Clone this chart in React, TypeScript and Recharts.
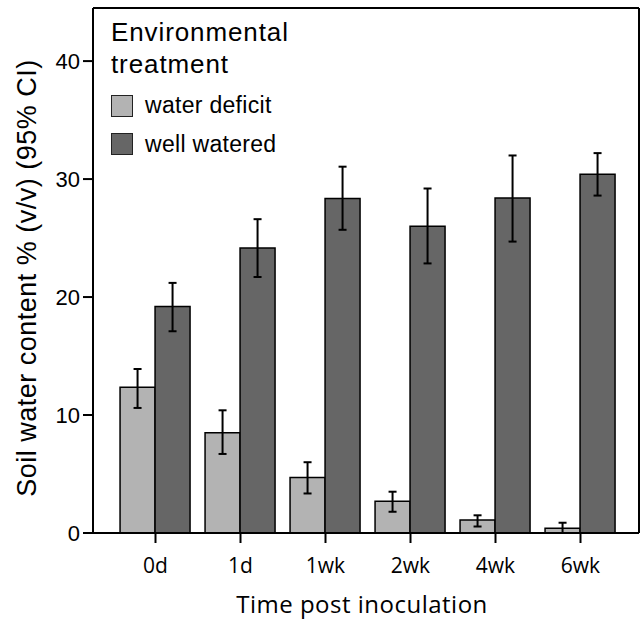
import React from 'react';
import { BarChart, Bar, XAxis, YAxis, ErrorBar } from 'recharts';

const timepoints = ['0d', '1d', '1wk', '2wk', '4wk', '6wk'];

const deficit = [12.35, 8.5, 4.7, 2.7, 1.1, 0.4];
const deficitLow = [10.6, 6.7, 3.35, 1.8, 0.55, 0.0];
const deficitHigh = [13.9, 10.4, 6.0, 3.5, 1.5, 0.87];

const watered = [19.2, 24.15, 28.35, 26.0, 28.4, 30.4];
const wateredLow = [17.1, 21.7, 25.7, 22.85, 24.7, 28.6];
const wateredHigh = [21.2, 26.6, 31.05, 29.2, 32.0, 32.2];

const yTicks = [0, 10, 20, 30, 40];

const LIGHT = '#b3b3b3';
const DARK = '#666666';
const SANS = '"Liberation Sans", Arial, sans-serif';
const HUMANIST = '"Open Sans", "DejaVu Sans", sans-serif';

const data = timepoints.map((t, i) => ({
  time: t,
  deficit: deficit[i],
  deficitErr: [deficit[i] - deficitLow[i], deficitHigh[i] - deficit[i]],
  watered: watered[i],
  wateredErr: [watered[i] - wateredLow[i], wateredHigh[i] - watered[i]],
}));

const legendTitle = ['Environmental', 'treatment'];
const legendItems = [
  { label: 'water deficit', color: LIGHT },
  { label: 'well watered', color: DARK },
];

// legend sits inside the plot frame, top-left
const LegendBox = () => (
  <div style={{ position: 'absolute', left: 111, top: 16, fontFamily: SANS, color: '#000', pointerEvents: 'none' }}>
    {legendTitle.map((line) => (
      <div key={line} style={{ fontSize: 26, lineHeight: '32.3px', letterSpacing: 0.9, whiteSpace: 'nowrap' }}>
        {line}
      </div>
    ))}
    <div style={{ marginTop: 6 }}>
      {legendItems.map((item) => (
        <div
          key={item.label}
          style={{ display: 'flex', alignItems: 'center', height: 38.4, fontSize: 23, letterSpacing: 0.3, whiteSpace: 'nowrap' }}
        >
          <span
            style={{
              display: 'inline-block',
              boxSizing: 'border-box',
              width: 22,
              height: 22,
              background: item.color,
              border: '1.5px solid #222',
              marginRight: 12,
            }}
          />
          {item.label}
        </div>
      ))}
    </div>
  </div>
);

const YLabel = ({ viewBox }: any) => {
  const cx = viewBox.x + 36;
  const cy = 278;
  return (
    <text
      x={cx}
      y={cy}
      transform={`rotate(-90 ${cx} ${cy})`}
      textAnchor="middle"
      fontFamily={SANS}
      fontSize={27}
      letterSpacing={0.5}
      fill="#000"
    >
      Soil water content % (v/v) (95% CI)
    </text>
  );
};

const XLabel = ({ viewBox }: any) => (
  <text
    x={viewBox.x + viewBox.width / 2 - 4}
    y={viewBox.y + 80}
    textAnchor="middle"
    fontFamily={HUMANIST}
    fontSize={24}
    letterSpacing={0.5}
    fill="#000"
  >
    Time post inoculation
  </text>
);

export default function App() {
  return (
    <div style={{ position: 'absolute', left: 0, top: 0, width: 641, height: 626, background: '#fff' }}>
      <BarChart
        width={641}
        height={626}
        data={data}
        margin={{ top: 7, right: 1, bottom: 0, left: 0 }}
        barCategoryGap="8.3%"
        barGap={0}
      >
        <XAxis
          dataKey="time"
          height={93}
          padding={{ left: 20, right: 16 }}
          axisLine={{ stroke: '#000', strokeWidth: 2 }}
          tickLine={{ stroke: '#000', strokeWidth: 2 }}
          tickSize={10}
          tickMargin={15}
          tick={{ fill: '#000', fontSize: 21, fontFamily: HUMANIST }}
          label={<XLabel />}
        />
        <XAxis
          xAxisId="frameTop"
          dataKey="time"
          orientation="top"
          height={1}
          tick={false}
          tickLine={false}
          axisLine={{ stroke: '#000', strokeWidth: 2 }}
        />
        <YAxis
          width={93}
          domain={[0, 44.5]}
          ticks={yTicks}
          allowDataOverflow
          axisLine={{ stroke: '#000', strokeWidth: 2 }}
          tickLine={{ stroke: '#000', strokeWidth: 2 }}
          tickSize={10}
          tickMargin={3}
          tick={{ fill: '#000', fontSize: 22, fontFamily: SANS }}
          label={<YLabel />}
        />
        <YAxis
          yAxisId="frameRight"
          orientation="right"
          width={1}
          tick={false}
          tickLine={false}
          axisLine={{ stroke: '#000', strokeWidth: 2 }}
        />
        <Bar dataKey="deficit" fill={LIGHT} stroke="#000" strokeWidth={1.5} isAnimationActive={false}>
          <ErrorBar dataKey="deficitErr" width={4} stroke="#000" strokeWidth={2} direction="y" />
        </Bar>
        <Bar dataKey="watered" fill={DARK} stroke="#000" strokeWidth={1.5} isAnimationActive={false}>
          <ErrorBar dataKey="wateredErr" width={4} stroke="#000" strokeWidth={2} direction="y" />
        </Bar>
      </BarChart>
      <LegendBox />
    </div>
  );
}
